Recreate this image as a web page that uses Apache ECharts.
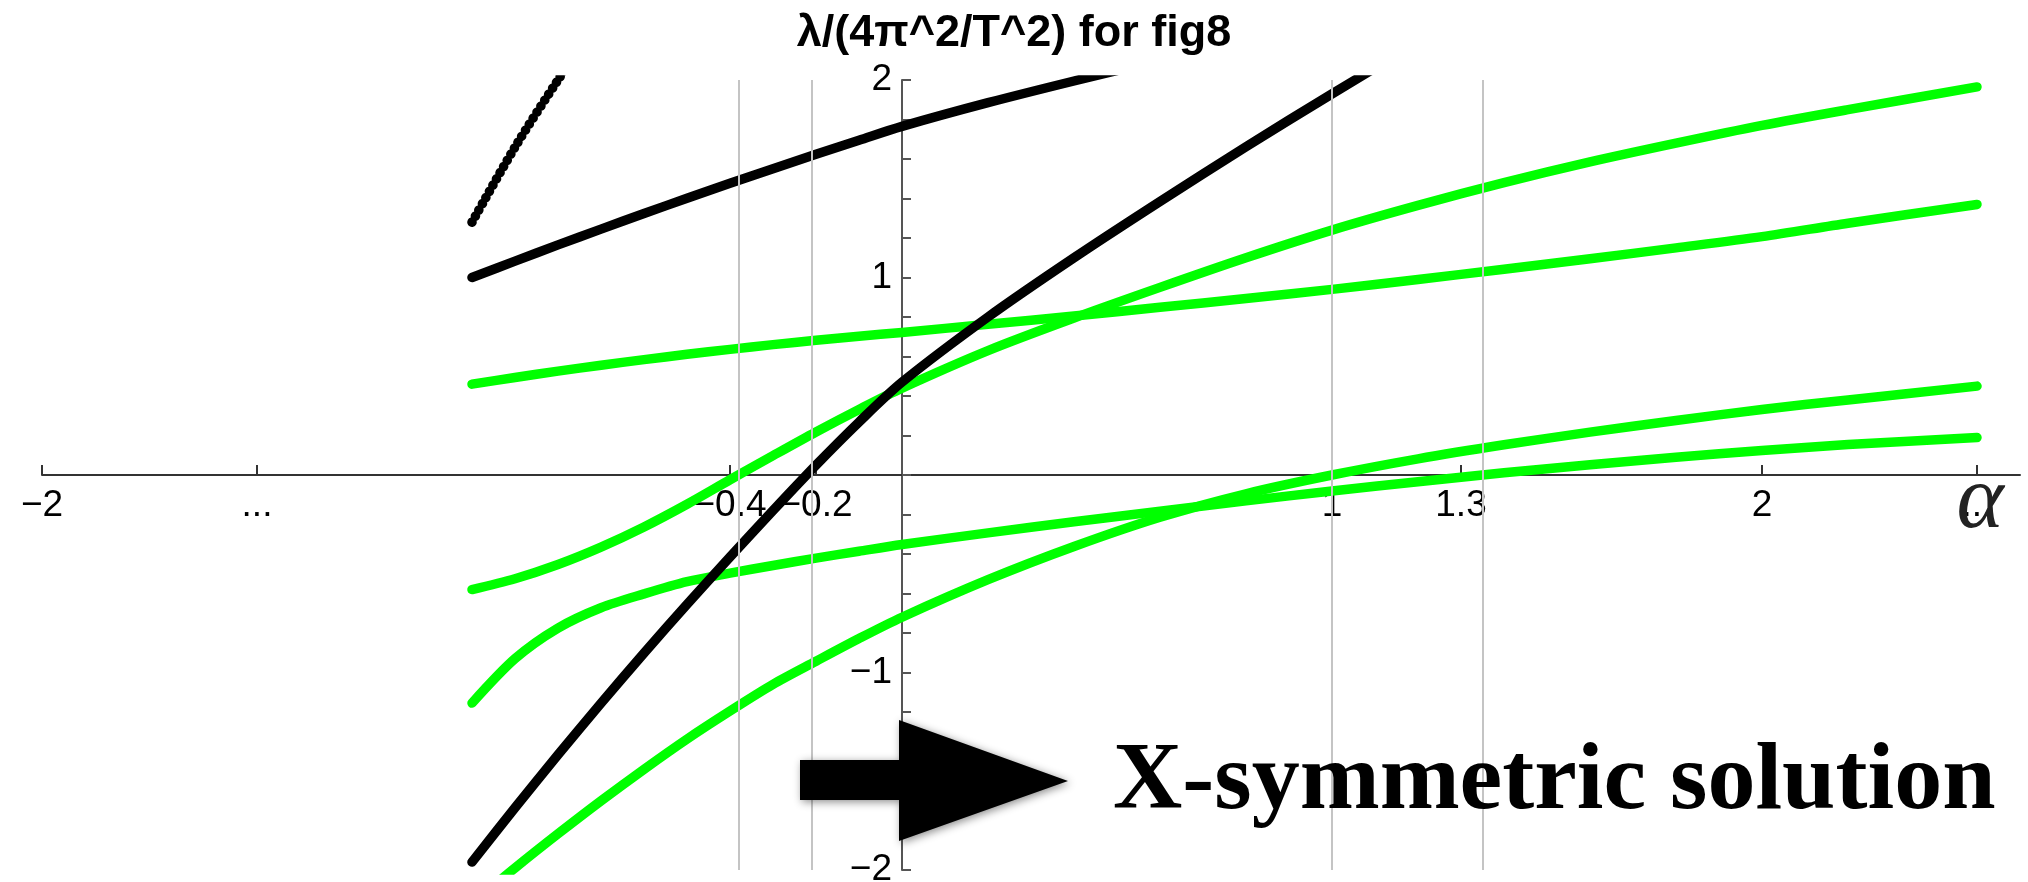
<!DOCTYPE html>
<html>
<head>
<meta charset="utf-8">
<script src="https://cdn.jsdelivr.net/npm/echarts@6/dist/echarts.min.js"></script>
<style>
  html, body { margin: 0; padding: 0; background: #fff; }
  #main { width: 2028px; height: 882px; }
</style>
</head>
<body>
<div id="main"></div>
<script>
  // alpha sample points shared by all curves
  const alpha = [-1, -0.9, -0.8, -0.7, -0.6, -0.5, -0.4, -0.3, -0.2, -0.1, 0, 0.2, 0.4, 0.6, 0.8, 1.0, 1.2, 1.4, 1.6, 1.8, 2.0, 2.2, 2.5];

  // black branches (they leave the plot at the top)
  const black1 = [1.28, 1.66, 2.0, 2.32, null, null, null, null, null, null, null, null, null, null, null, null, null, null, null, null, null, null, null];
  const black2 = [1.0, 1.083, 1.165, 1.245, 1.324, 1.401, 1.477, 1.551, 1.624, 1.695, 1.765, 1.885, 1.995, 2.1, null, null, null, null, null, null, null, null, null];
  const black3 = [-1.96, -1.685, -1.417, -1.156, -0.902, -0.655, -0.415, -0.18, 0.05, 0.268, 0.47, 0.8, 1.1, 1.385, 1.662, 1.93, 2.19, null, null, null, null, null, null];

  // green branches
  const green1 = [0.46, 0.494, 0.526, 0.556, 0.584, 0.611, 0.636, 0.66, 0.682, 0.703, 0.722, 0.763, 0.805, 0.849, 0.894, 0.94, 0.99, 1.042, 1.095, 1.15, 1.207, 1.275, 1.37];
  const green2 = [-0.58, -0.525, -0.453, -0.365, -0.263, -0.148, -0.024, 0.098, 0.218, 0.332, 0.44, 0.63, 0.795, 0.95, 1.1, 1.24, 1.365, 1.48, 1.585, 1.68, 1.77, 1.85, 1.965];
  const green3 = [-1.155, -0.93, -0.775, -0.672, -0.602, -0.54, -0.497, -0.458, -0.421, -0.386, -0.352, -0.293, -0.237, -0.183, -0.131, -0.081, -0.034, 0.011, 0.052, 0.09, 0.124, 0.154, 0.19];
  const green4 = [-2.17, -1.99, -1.817, -1.65, -1.49, -1.337, -1.195, -1.06, -0.943, -0.828, -0.72, -0.53, -0.362, -0.214, -0.095, 0.0, 0.082, 0.153, 0.217, 0.276, 0.332, 0.38, 0.45];

  // axis ticks / labels
  const xTickVals = [-2, -1.5, -0.4, -0.2, 1, 1.3, 2, 2.5];
  const xTickText = ['−2', '...', '−0.4', '−0.2', '1', '1.3', '2', '...'];
  const yLabelVals = [-2, -1, 1, 2];
  // vertical grid lines
  const gridXs = [-0.38, -0.215, 1.0, 1.35];

  let chart = echarts.init(document.getElementById('main'));

  function pairs(ys) {
    return alpha.map((a, i) => [a, ys[i]]);
  }

  function curve(name, ys, color, dash) {
    return {
      name: name,
      type: 'line',
      data: pairs(ys),
      smooth: 0.3,
      showSymbol: false,
      z: 3,
      lineStyle: { color: color, width: 9.5, cap: 'round', join: 'round', type: dash || 'solid' }
    };
  }

  let option = {
    animation: false,
    backgroundColor: '#fff',
    title: {
      text: 'λ/(4π^2/T^2) for fig8',
      left: 'center',
      top: 6,
      textStyle: {
        fontFamily: 'Liberation Sans',
        fontWeight: 'bold',
        fontSize: 45,
        color: '#000'
      }
    },
    // x: -2 -> 42px, 2.6 -> 2020px ; y: 2 -> 80px, -2 -> 870px
    grid: { left: 42, right: 8, top: 80, bottom: 12, outerBoundsMode: 'none' },
    xAxis: {
      type: 'value',
      min: -2,
      max: 2.6,
      position: 'bottom',
      offset: -395, // puts the axis on y = 0
      z: 2,
      axisLine: { onZero: false, lineStyle: { color: '#333', width: 2 } },
      axisTick: { inside: true, length: 10, customValues: xTickVals, lineStyle: { color: '#333', width: 2 } },
      axisLabel: {
        customValues: xTickVals,
        margin: 12,
        fontFamily: 'Liberation Sans',
        fontSize: 37,
        color: '#000',
        formatter: function (v) {
          let i = xTickVals.findIndex(t => Math.abs(t - v) < 1e-9);
          return i >= 0 ? xTickText[i] : '';
        }
      },
      splitLine: { show: false }
    },
    yAxis: {
      type: 'value',
      min: -2,
      max: 2,
      interval: 0.2,
      position: 'left',
      offset: -860, // puts the axis on x = 0
      z: 2,
      axisLine: { onZero: false, lineStyle: { color: '#555', width: 2 } },
      axisTick: { inside: true, length: 9, lineStyle: { color: '#555', width: 2 } },
      axisLabel: {
        customValues: yLabelVals,
        margin: 10,
        fontFamily: 'Liberation Sans',
        fontSize: 37,
        color: '#000',
        formatter: v => String(v).replace('-', '−')
      },
      splitLine: { show: false }
    },
    series: [
      {
        name: 'grid',
        type: 'line',
        data: [],
        z: 1,
        markLine: {
          silent: true,
          symbol: 'none',
          label: { show: false },
          lineStyle: { color: '#c4c4c4', width: 2, type: 'solid' },
          data: gridXs.map(v => ({ xAxis: v }))
        }
      },
      curve('g1', green1, '#00ff00'),
      curve('g2', green2, '#00ff00'),
      curve('g3', green3, '#00ff00'),
      curve('g4', green4, '#00ff00'),
      curve('b1', black1, '#000', [0.1, 7]),
      curve('b2', black2, '#000'),
      curve('b3', black3, '#000')
    ],
    graphic: [
      {
        // axis name
        type: 'text',
        z: 50,
        style: {
          x: 1980,
          y: 503,
          text: 'α',
          font: 'italic 90px "Liberation Serif"',
          fill: '#222',
          align: 'center',
          verticalAlign: 'middle'
        }
      },
      {
        type: 'polygon',
        z: 100,
        shape: {
          points: [[800, 760], [899, 760], [899, 720], [1068, 781], [899, 841], [899, 800], [800, 800]]
        },
        style: {
          fill: '#000',
          shadowBlur: 8,
          shadowColor: 'rgba(0,0,0,0.45)',
          shadowOffsetX: 2,
          shadowOffsetY: 2
        }
      },
      {
        type: 'text',
        z: 100,
        style: {
          x: 1113,
          y: 783,
          text: 'X-symmetric solution',
          font: 'bold 96px "Liberation Serif"',
          fill: '#000',
          align: 'left',
          verticalAlign: 'middle'
        }
      }
    ]
  };

  chart.setOption(option);
  window.addEventListener('resize', () => {
    chart.resize();
  });
</script>
</body>
</html>
